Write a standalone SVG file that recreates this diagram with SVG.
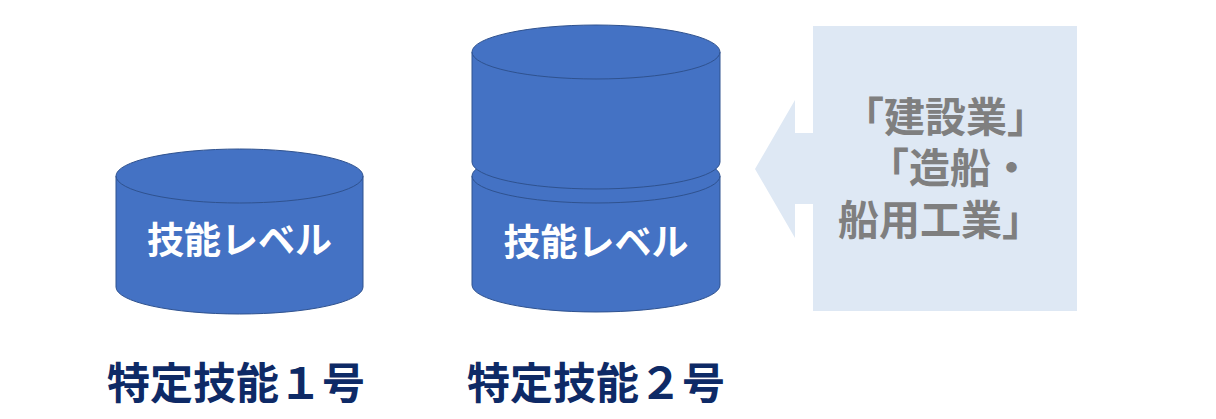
<svg xmlns="http://www.w3.org/2000/svg" width="1216" height="419" viewBox="0 0 1216 419">
<style>
.cyl{fill:#4472C4;stroke:#2F528F;stroke-width:1}
.in{fill:#FFFFFF;font-family:"Noto Sans CJK JP","Noto Sans",sans-serif;font-weight:bold;font-size:37px;text-anchor:middle}
.lbl{fill:#0E2A66;font-family:"Noto Sans CJK JP","Noto Sans",sans-serif;font-weight:bold;font-size:43px;text-anchor:middle}
.call{fill:#7F7F7F;font-family:"Noto Sans CJK JP","Noto Sans",sans-serif;font-weight:bold;font-size:41px;text-anchor:middle}
</style>
<rect width="1216" height="419" fill="#FFFFFF"/>
<g id="level1">
<path class="cyl" d="M116,176 V287 A123.5,27 0 0 0 363,287 V176 A123.5,27 0 0 0 116,176 Z"/>
<path class="cyl" fill="none" d="M116,176 A123.5,27 0 0 0 363,176"/>
<text class="in" x="239.5" y="254">技能レベル</text>
</g>
<g id="level2">
<path class="cyl" d="M472,176 V285 A124,27 0 0 0 720,285 V176 A124,27 0 0 0 472,176 Z"/>
<path class="cyl" d="M472,176 A124,27 0 0 0 720,176"/>
<path class="cyl" d="M472,52 V162 A124,27 0 0 0 720,162 V52 A124,27 0 0 0 472,52 Z"/>
<path class="cyl" d="M472,52 A124,27 0 0 0 720,52"/>
<text class="in" x="596" y="256">技能レベル</text>
</g>
<g id="callout">
<path d="M813,26 H1077 V311 H813 V204 H795 V238 L755,169 L795,100 V133 H813 Z" fill="#DEE8F4"/>
<text class="call"><tspan x="945.5" y="132">「建設業」</tspan><tspan x="950" y="183">「造船・</tspan><tspan x="940.5" y="235">船用工業」</tspan></text>
</g>
<g id="labels">
<text class="lbl" x="236" y="399">特定技能１号</text>
<text class="lbl" x="596" y="399">特定技能２号</text>
</g>
<g id="connectors"></g>
</svg>
